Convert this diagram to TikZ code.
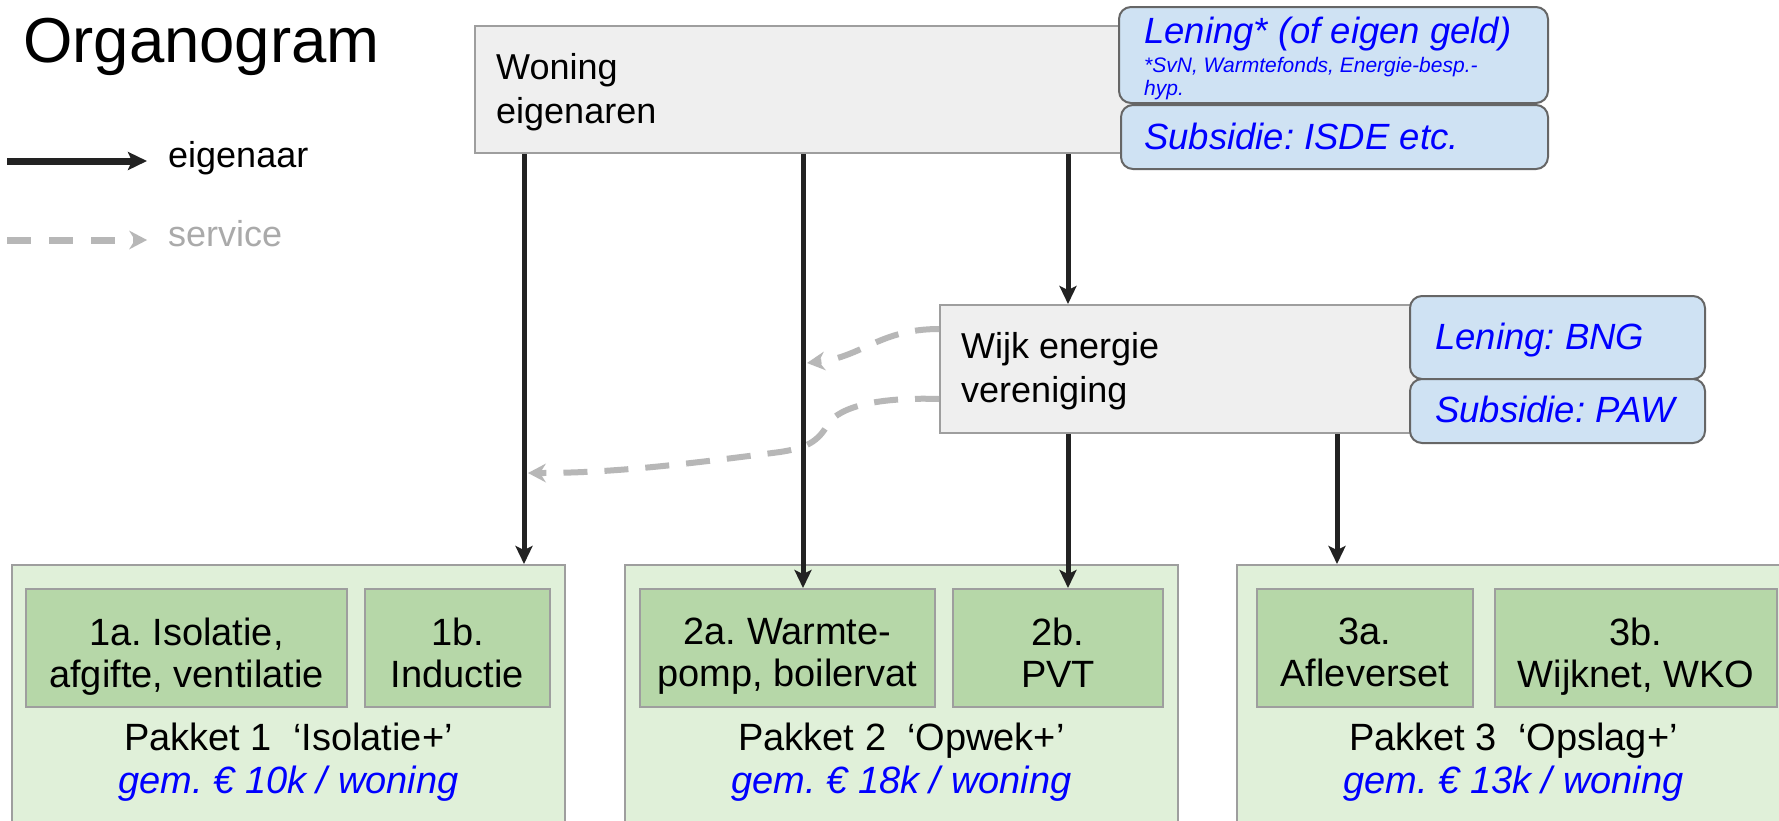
\documentclass[tikz,border=0pt]{standalone}
\usepackage{fontspec}
\setmainfont{Liberation Sans}
\usetikzlibrary{arrows.meta}
\frenchspacing
\definecolor{boxgray}{HTML}{9E9E9E}
\definecolor{greyfill}{HTML}{EFEFEF}
\definecolor{fundfill}{HTML}{CFE2F3}
\definecolor{funddraw}{HTML}{666666}
\definecolor{pkgfill}{HTML}{E0F0D9}
\definecolor{itemfill}{HTML}{B6D7A8}
\definecolor{inkblue}{HTML}{0000FF}
\definecolor{arrowblack}{HTML}{222222}
\definecolor{svcgray}{HTML}{B7B7B7}
\definecolor{legendgray}{HTML}{AAAAAA}
\tikzset{
  gbox/.style={draw=boxgray, fill=greyfill, line width=2pt, anchor=north west, inner sep=0pt},
  fundbox/.style={draw=funddraw, fill=fundfill, line width=2pt, rounded corners=12pt, anchor=north west, inner sep=0pt},
  pkgbox/.style={draw=boxgray, fill=pkgfill, line width=2pt, anchor=north west, inner sep=0pt},
  itembox/.style={draw=boxgray, fill=itemfill, line width=2pt, anchor=north west, inner sep=0pt},
  own/.style={draw=arrowblack, line width=5pt, -{Stealth[length=18pt,width=17pt,inset=4pt]}},
  svc/.style={draw=svcgray, line width=6pt, dash pattern=on 24pt off 17pt},
  svctip/.style={fill=svcgray, draw=none},
  lbl/.style={inner sep=0pt, font=\fontsize{36}{44}\selectfont},
  fundtxt/.style={inner sep=0pt, text=inkblue, font=\fontsize{36.5}{44}\selectfont\itshape},
  fundsmall/.style={inner sep=0pt, text=inkblue, font=\fontsize{21}{23}\selectfont\itshape},
  itemtxt/.style={inner sep=0pt, align=center, anchor=north, font=\fontsize{38}{42}\selectfont},
  pkgtxt/.style={inner sep=0pt, anchor=base, font=\fontsize{38}{44}\selectfont},
  costtxt/.style={inner sep=0pt, anchor=base, text=inkblue, font=\fontsize{38}{44}\selectfont\itshape},
}
\begin{document}
\begin{tikzpicture}[x=1pt,y=-1pt]
\useasboundingbox (0,0) rectangle (1779,820);
\fill[white] (0,0) rectangle (1779,820);
\clip (0,0) rectangle (1779,820);

% title and legend
\node[anchor=base west, inner sep=0pt, font=\fontsize{63.5}{70}\selectfont] (title) at (23,62) {Organogram};
\coordinate (lgA) at (7,161);
\coordinate (lgB) at (147,161);
\draw[own, line width=7pt, -{Stealth[length=19pt,width=18pt,inset=4pt]}] (lgA) -- (lgB);
\node[lbl, anchor=base west] (lgown) at (168,167) {eigenaar};
\coordinate (lgC) at (7,240);
\coordinate (lgD) at (147,240);
\coordinate (lgDn) at (135,240);
\draw[svc, line width=7pt, dash pattern=on 24pt off 18pt] (lgC) -- (lgDn);
\fill[svctip] (lgD) -- ++(-18,-9.5) -- ++(6,9.5) -- ++(-6,9.5) -- cycle;
\node[lbl, anchor=base west, text=legendgray] (lgsvc) at (168,246) {service};

% top: woning eigenaren
\node[gbox, minimum width=660pt, minimum height=127pt] (woning) at (474,25) {};
\node[lbl, anchor=north west, align=left] (woninglbl) at (496,53) {Woning\\eigenaren};
\node[fundbox, minimum width=429pt, minimum height=96pt] (lening) at (1118,6) {};
\node[fundtxt, anchor=base west] (leningA) at (1144,43) {Lening* (of eigen geld)};
\node[fundsmall, anchor=base west] (leningB) at (1144,72) {*SvN, Warmtefonds, Energie-besp.-};
\node[fundsmall, anchor=base west] (leningC) at (1144,95) {hyp.};
\node[fundbox, minimum width=427pt, minimum height=64pt] (isde) at (1120,104) {};
\node[fundtxt, anchor=base west] (isdelbl) at (1144,149) {Subsidie: ISDE etc.};

% middle: wijk energie vereniging
\node[gbox, minimum width=480pt, minimum height=128pt] (wijk) at (939,304) {};
\node[lbl, anchor=north west, align=left] (wijklbl) at (961,332) {Wijk energie\\vereniging};
\node[fundbox, minimum width=295pt, minimum height=83pt] (bng) at (1409,295) {};
\node[fundtxt, anchor=base west] (bnglbl) at (1435,349) {Lening: BNG};
\node[fundbox, minimum width=295pt, minimum height=64pt] (paw) at (1409,378) {};
\node[fundtxt, anchor=base west] (pawlbl) at (1435,422) {Subsidie: PAW};

% bottom packages
\node[pkgbox, minimum width=553pt, minimum height=280pt] (pk1) at (11,564) {};
\node[pkgbox, minimum width=553pt, minimum height=280pt] (pk2) at (624,564) {};
\node[pkgbox, minimum width=553pt, minimum height=280pt] (pk3) at (1236,564) {};

\node[itembox, minimum width=321pt, minimum height=118pt] (i1a) at (25,588) {};
\node[itembox, minimum width=185pt, minimum height=118pt] (i1b) at (364,588) {};
\node[itembox, minimum width=295pt, minimum height=118pt] (i2a) at (639,588) {};
\node[itembox, minimum width=210pt, minimum height=118pt] (i2b) at (952,588) {};
\node[itembox, minimum width=216pt, minimum height=118pt] (i3a) at (1256,588) {};
\node[itembox, minimum width=282pt, minimum height=118pt] (i3b) at (1494,588) {};

\node[itemtxt] (t1a) at ([yshift=-30pt]i1a.north) {1a. Isolatie,\\afgifte, ventilatie};
\node[itemtxt] (t1b) at ([yshift=-30pt]i1b.north) {1b.\\Inductie};
\node[itemtxt] (t2a) at ([yshift=-30pt]i2a.north) {2a. Warmte-\\pomp, boilervat};
\node[itemtxt] (t2b) at ([yshift=-30pt]i2b.north) {2b.\\PVT};
\node[itemtxt] (t3a) at ([yshift=-30pt]i3a.north) {3a.\\Afleverset};
\node[itemtxt] (t3b) at ([yshift=-30pt]i3b.north) {3b.\\Wijknet, WKO};

\node[pkgtxt] (p1lbl) at ([yshift=-186pt]pk1.north) {Pakket 1\ \ ‘Isolatie+’};
\node[costtxt] (p1cost) at ([yshift=-229pt]pk1.north) {gem. € 10k / woning};
\node[pkgtxt] (p2lbl) at ([yshift=-186pt]pk2.north) {Pakket 2\ \ ‘Opwek+’};
\node[costtxt] (p2cost) at ([yshift=-229pt]pk2.north) {gem. € 18k / woning};
\node[pkgtxt] (p3lbl) at ([yshift=-186pt]pk3.north) {Pakket 3\ \ ‘Opslag+’};
\node[costtxt] (p3cost) at ([yshift=-229pt]pk3.north) {gem. € 13k / woning};

% service connectors (dashed line ends at the notch of its chevron tip)
\coordinate (sv1) at (807,363);
\coordinate (sv1n) at (818.9,361.7);
\coordinate (sv2) at (528,473);
\coordinate (sv2n) at (540,473);
\draw[svc] ([yshift=-25pt]wijk.north west) .. controls (880,329) and (862,357) .. (sv1n);
\fill[svctip] (sv1) -- (826.0,370.4) -- (sv1n) -- (823.8,351.6) -- cycle;
\draw[svc] ([yshift=35pt]wijk.south west) .. controls (880,397) and (840,406) .. (828,424)
  .. controls (818,442) and (806,448) .. (780,452) .. controls (680,465) and (610,473) .. (sv2n);
\fill[svctip] (sv2) -- ++(18,-9.5) -- ++(-6,9.5) -- ++(6,9.5) -- cycle;

% ownership connectors
\coordinate (cx1) at (524,0);
\coordinate (cx2) at (803,0);
\coordinate (cx3) at (1068,0);
\coordinate (cx4) at (1337,0);
\draw[own] (woning.south -| cx1) -- (pk1.north -| cx1);
\draw[own] (woning.south -| cx2) -- (i2a.north -| cx2);
\draw[own] (woning.south -| cx3) -- (wijk.north -| cx3);
\draw[own] (wijk.south -| cx3) -- (i2b.north -| cx3);
\draw[own] (wijk.south -| cx4) -- (pk3.north -| cx4);
\end{tikzpicture}
\end{document}
